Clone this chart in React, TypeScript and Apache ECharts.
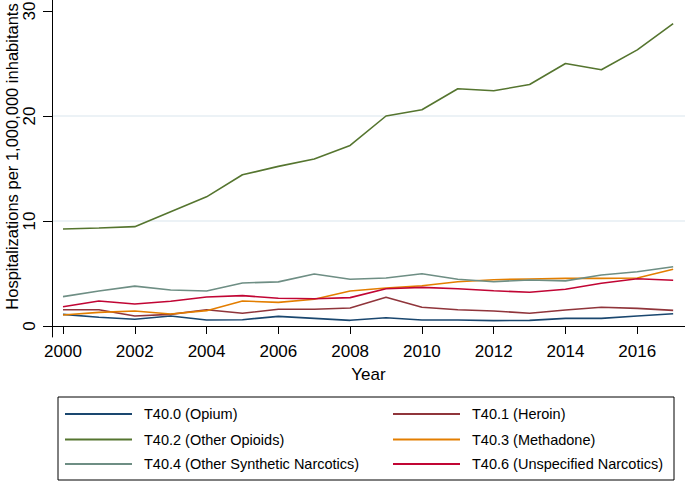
import React, { useEffect, useRef } from "react";
import * as echarts from "echarts";

const years = [2000, 2001, 2002, 2003, 2004, 2005, 2006, 2007, 2008, 2009, 2010, 2011, 2012, 2013, 2014, 2015, 2016, 2017];
const xTickYears = [2000, 2002, 2004, 2006, 2008, 2010, 2012, 2014, 2016];
const yTicks = [0, 10, 20, 30];

const opium = [1.11, 0.83, 0.64, 0.95, 0.57, 0.6, 0.92, 0.73, 0.54, 0.79, 0.57, 0.57, 0.51, 0.54, 0.73, 0.73, 0.95, 1.17];
const heroin = [1.55, 1.55, 0.95, 1.11, 1.55, 1.21, 1.59, 1.59, 1.72, 2.73, 1.78, 1.55, 1.43, 1.21, 1.52, 1.78, 1.68, 1.49];
const otherOpioids = [9.24, 9.33, 9.46, 10.88, 12.3, 14.4, 15.2, 15.9, 17.2, 20.0, 20.6, 22.6, 22.4, 23.0, 25.0, 24.4, 26.3, 28.8];
const methadone = [1.05, 1.3, 1.43, 1.14, 1.46, 2.38, 2.25, 2.54, 3.34, 3.62, 3.84, 4.22, 4.41, 4.48, 4.54, 4.54, 4.57, 5.4];
const otherSynthetic = [2.8, 3.33, 3.8, 3.43, 3.33, 4.1, 4.2, 4.95, 4.45, 4.57, 4.98, 4.45, 4.22, 4.38, 4.3, 4.86, 5.17, 5.65];
const unspecified = [1.84, 2.38, 2.1, 2.35, 2.76, 2.89, 2.64, 2.6, 2.7, 3.55, 3.68, 3.55, 3.36, 3.21, 3.5, 4.07, 4.5, 4.35];

const seriesNames = [
  "T40.0 (Opium)",
  "T40.1 (Heroin)",
  "T40.2 (Other Opioids)",
  "T40.3 (Methadone)",
  "T40.4 (Other Synthetic Narcotics)",
  "T40.6 (Unspecified Narcotics)",
];
const seriesValues = [opium, heroin, otherOpioids, methadone, otherSynthetic, unspecified];
const seriesColors = ["#1a476f", "#90353b", "#55752f", "#e37e00", "#6e8e84", "#c10534"];

const FONT = "'Liberation Sans', Arial, Helvetica, sans-serif";

const legendCols = [65, 393];
const legendRows = [414, 439.5, 464];

export default function App() {
  const ref = useRef<HTMLDivElement>(null);
  useEffect(() => {
    if (!ref.current) return;
    const chart = echarts.init(ref.current, undefined, { renderer: "svg" });
    const series = seriesNames.map((name, i) => ({
      name,
      type: "line",
      symbol: "none",
      showSymbol: false,
      data: years.map((y, j) => [y, seriesValues[i][j]]),
      lineStyle: { color: seriesColors[i], width: 1.6 },
      itemStyle: { color: seriesColors[i] },
      z: i === 2 ? 3 : 2,
    }));
    const legends = seriesNames.map((name, i) => ({
      orient: "horizontal",
      left: legendCols[i % 2],
      top: legendRows[Math.floor(i / 2)] - 8,
      padding: 0,
      itemWidth: 67,
      itemHeight: 2,
      itemGap: 0,
      icon: "rect",
      textStyle: { fontFamily: FONT, fontSize: 14.5, color: "#000", lineHeight: 16, padding: [0, 0, 0, 7] },
      data: [name],
    }));
    const frame = {
      type: "rect",
      shape: { x: 58, y: 397, width: 616, height: 83 },
      style: { fill: "none", stroke: "#000", lineWidth: 1 },
      silent: true,
    };
    chart.setOption({
      animation: false,
      backgroundColor: "#fff",
      textStyle: { fontFamily: FONT },
      grid: { left: 52, right: 0, top: 0, height: 337, containLabel: false, outerBoundsMode: "none" },
      xAxis: {
        type: "value",
        min: 1999.694,
        max: 2017.33,
        name: "Year",
        nameLocation: "middle",
        nameGap: 29,
        nameMoveOverlap: false,
        nameTextStyle: { fontFamily: FONT, fontSize: 17, color: "#000" },
        axisLine: { show: true, lineStyle: { color: "#000", width: 1 } },
        axisTick: { show: true, length: 8, customValues: xTickYears, lineStyle: { color: "#000" } },
        axisLabel: {
          customValues: xTickYears,
          margin: 6,
          fontSize: 17,
          fontFamily: FONT,
          color: "#000",
          formatter: (v: number) => String(Math.round(v)),
        },
        splitLine: { show: false },
      },
      yAxis: {
        type: "value",
        min: -1.048,
        max: 31.048,
        splitNumber: 3,
        name: "Hospitalizations per 1,000,000 inhabitants",
        nameLocation: "middle",
        nameRotate: 90,
        nameGap: 31.5,
        nameMoveOverlap: false,
        nameTextStyle: { fontFamily: FONT, fontSize: 16.5, color: "#000", padding: [0, 0, 0, 24] },
        axisLine: { show: true, lineStyle: { color: "#000", width: 1 } },
        axisTick: { show: true, length: 9, customValues: yTicks, lineStyle: { color: "#000" } },
        axisLabel: { show: false },
        splitLine: {
          show: true,
          customValues: yTicks,
          showMinLine: false,
          showMaxLine: false,
          lineStyle: { color: "#e6eef3", width: 1.5 },
        },
      },
      legend: legends,
      graphic: [frame],
      series,
    });
    // vertical (rotated) y tick labels, positioned through the y axis scale
    const yLabelTexts = yTicks.map((v) => {
      const py = chart.convertToPixel({ yAxisIndex: 0 }, v) as number;
      return {
        type: "text",
        x: 29,
        y: py,
        rotation: Math.PI / 2,
        silent: true,
        style: {
          text: String(v),
          fontSize: 17,
          fontFamily: FONT,
          fill: "#000",
          align: "center",
          verticalAlign: "middle",
        },
      };
    });
    chart.setOption({ graphic: [frame, ...yLabelTexts] });
    return () => chart.dispose();
  }, []);
  return (
    <div
      ref={ref}
      style={{ position: "fixed", left: 0, top: 0, width: 685, height: 482, background: "#fff" }}
    />
  );
}
